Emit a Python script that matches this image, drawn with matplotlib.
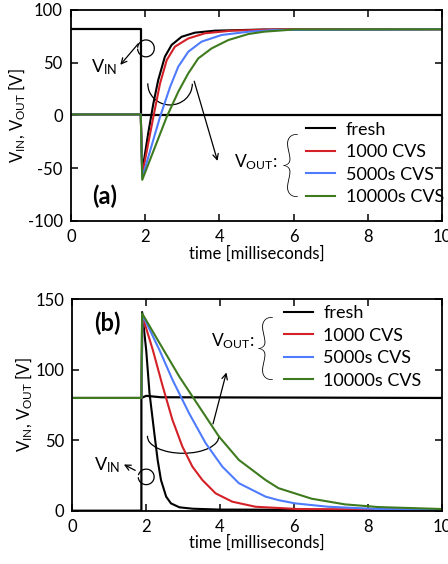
import matplotlib
matplotlib.use('Agg')
import matplotlib.pyplot as plt
from matplotlib.patches import Arc

plt.rcParams['font.family'] = ['Lato', 'DejaVu Sans']
plt.rcParams['mathtext.fontset'] = 'custom'
plt.rcParams['mathtext.rm'] = 'Lato'
plt.rcParams['mathtext.it'] = 'Lato:italic'
plt.rcParams['axes.unicode_minus'] = False

labels = ['fresh', '1000 CVS', '5000s CVS', '10000s CVS']
colors = ['black', '#d42027', '#4f7cff', '#3e7a1e']

# (a) input step down
t_in_a = [0, 1.9, 1.9, 10]
v_in_a = [82, 82, 0, 0]

t_a_fresh = [0, 1.88, 1.92, 2.08, 2.22, 2.35, 2.53, 2.71, 2.98, 3.34, 3.88, 5.2, 10]
v_a_fresh = [1, 1, -53, -17, 11.4, 33.5, 55.7, 66.8, 74.6, 78.5, 80.4, 81.5, 81.7]
t_a_1000 = [0, 1.88, 1.92, 2.22, 2.4, 2.58, 2.8, 3.16, 3.61, 4.33, 5.5, 10]
v_a_1000 = [1, 1, -56, -1.3, 30.4, 52.5, 65.2, 73, 77.9, 80.4, 81.5, 81.7]
t_a_5000 = [0, 1.88, 1.92, 2.4, 2.67, 2.89, 3.16, 3.52, 4.06, 4.78, 5.5, 10]
v_a_5000 = [1, 1, -59, -1.3, 27, 46.2, 60.4, 70, 76.3, 79.4, 81, 81.7]
t_a_10000 = [0, 1.88, 1.92, 2.58, 2.89, 3.16, 3.43, 3.79, 4.24, 4.78, 5.2, 6, 10]
v_a_10000 = [1, 1, -61, -1.3, 22.4, 39.9, 54.1, 63.6, 71.5, 77.2, 79.4, 81.5, 81.7]

# (b) input step up
t_in_b = [0, 1.87, 1.87, 2.0, 2.4, 10]
v_in_b = [0, 0, 80, 81.5, 80.5, 80]

t_b_fresh = [0, 1.87, 1.89, 2.0, 2.09, 2.22, 2.31, 2.4, 2.54, 2.67, 2.9, 3.26, 4, 10]
v_b_fresh = [80, 80, 141, 114, 83.4, 55, 36, 21.8, 10, 5.2, 2.4, 1.4, 0.8, 0.5]
t_b_1000 = [0, 1.87, 1.9, 2.18, 2.45, 2.71, 2.98, 3.25, 3.52, 3.88, 4.33, 4.96, 6.1, 10]
v_b_1000 = [80, 80, 138, 114, 88, 64.5, 45.5, 31.3, 21.8, 12.3, 6.4, 2.8, 1.2, 0.5]
t_b_5000 = [0, 1.87, 1.9, 2.36, 2.71, 3.16, 3.61, 4.06, 4.51, 5.23, 5.58, 6.03, 6.93, 8.27, 10]
v_b_5000 = [80, 80, 139, 114, 93, 69.2, 47.9, 31.3, 19.5, 10, 7.5, 5.2, 2.8, 1.2, 0.7]
t_b_10000 = [0, 1.87, 1.89, 2.36, 2.9, 3.43, 3.97, 4.51, 5.23, 5.58, 6.48, 7.38, 8.27, 9.88, 10]
v_b_10000 = [80, 80, 140, 119, 95, 74, 52.6, 36, 21.8, 16, 8.5, 4.5, 2.6, 1.3, 1.2]

xticks = [0, 2, 4, 6, 8, 10]
yticks_a = [-100, -50, 0, 50, 100]
yticks_b = [0, 50, 100, 150]


def style_axes(ax, yticks, ylim):
    ax.set_xlim(0, 10)
    ax.set_ylim(*ylim)
    ax.set_xticks(xticks)
    ax.set_yticks(yticks)
    ax.tick_params(direction='in', top=True, right=True, length=5, width=1.1,
                   labelsize=12, pad=6)
    for s in ax.spines.values():
        s.set_linewidth(1.3)
    ax.set_xlabel('time [milliseconds]', fontsize=12, fontweight='normal', labelpad=0)
    ax.set_ylabel(r'V$_\mathrm{IN}$, V$_\mathrm{OUT}$ [V]', fontsize=12,
                  fontweight='normal', labelpad=0)


fig = plt.figure(figsize=(4.48, 5.64), dpi=100)
ax_a = fig.add_axes([0.1585, 0.6082, 0.8281, 0.3741])
ax_b = fig.add_axes([0.1614, 0.0945, 0.8246, 0.3748])

# panel (a)
ax_a.plot(t_in_a, v_in_a, color='black', lw=1.6)
series_a = [(t_a_fresh, v_a_fresh), (t_a_1000, v_a_1000),
            (t_a_5000, v_a_5000), (t_a_10000, v_a_10000)]
for (t, v), c, lab in zip(series_a, colors, labels):
    ax_a.plot(t, v, color=c, lw=1.5, label=lab)
style_axes(ax_a, yticks_a, (-100, 100))
ax_a.legend(loc='upper left', bbox_to_anchor=(0.633, 0.47), frameon=False,
            fontsize=13, handlelength=1.6, handletextpad=0.6, labelspacing=0.36,
            borderpad=0, borderaxespad=0)
ax_a.text(0.9, -77, '(a)', fontsize=17, fontweight='bold', ha='center', va='center')
ax_a.text(0.55, 46, r'V$_\mathrm{IN}$', fontsize=13, va='center')
ax_a.annotate('', xy=(1.28, 46), xytext=(1.86, 70),
              arrowprops=dict(arrowstyle='->', lw=0.9, color='black'))
ax_a.add_patch(Arc((2.02, 63.6), 0.45, 16, theta1=-130, theta2=110, lw=0.9, color='black'))
ax_a.add_patch(Arc((2.67, 30), 1.2, 40, theta1=140, theta2=10, lw=0.9, color='black'))
ax_a.annotate('', xy=(3.97, -45.6), xytext=(3.3, 35),
              arrowprops=dict(arrowstyle='->', lw=0.9, color='black'))
ax_a.text(4.38, -44, r'V$_\mathrm{OUT}$:', fontsize=12.5, va='center')
ax_a.text(5.9, -50.5, '{', fontsize=52, fontweight='light', ha='center', va='center')

# panel (b)
ax_b.plot(t_in_b, v_in_b, color='black', lw=1.6)
series_b = [(t_b_fresh, v_b_fresh), (t_b_1000, v_b_1000),
            (t_b_5000, v_b_5000), (t_b_10000, v_b_10000)]
for (t, v), c, lab in zip(series_b, colors, labels):
    ax_b.plot(t, v, color=c, lw=1.5, label=lab)
style_axes(ax_b, yticks_b, (0, 150))
ax_b.legend(loc='upper left', bbox_to_anchor=(0.572, 0.972), frameon=False,
            fontsize=13, handlelength=1.6, handletextpad=0.6, labelspacing=0.36,
            borderpad=0, borderaxespad=0)
ax_b.text(0.95, 133, '(b)', fontsize=17, fontweight='bold', ha='center', va='center')
ax_b.text(0.6, 32.5, r'V$_\mathrm{IN}$', fontsize=13, va='center')
ax_b.annotate('', xy=(1.33, 33.7), xytext=(1.77, 27.7),
              arrowprops=dict(arrowstyle='->', lw=0.9, color='black'))
ax_b.add_patch(Arc((2.0, 24), 0.43, 11, theta1=-130, theta2=100, lw=0.9, color='black'))
ax_b.add_patch(Arc((3.0, 52.6), 1.93, 23.7, theta1=150, theta2=35, lw=0.9, color='black'))
ax_b.annotate('', xy=(4.19, 100), xytext=(3.79, 59.7),
              arrowprops=dict(arrowstyle='->', lw=0.9, color='black'))
ax_b.text(3.75, 120, r'V$_\mathrm{OUT}$:', fontsize=12.5, va='center')
ax_b.text(5.22, 113, '{', fontsize=52, fontweight='light', ha='center', va='center')

fig.savefig('out.png', dpi=100)
